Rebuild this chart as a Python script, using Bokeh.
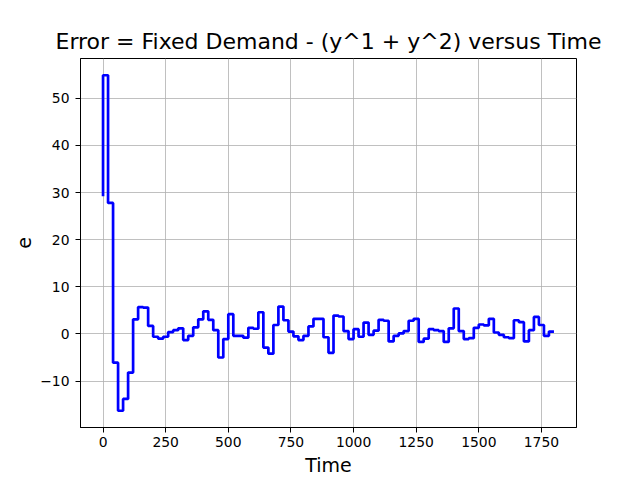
from bokeh.plotting import figure
from bokeh.models import Range1d, FixedTicker
from bokeh.embed import file_html
from bokeh.resources import INLINE

# Data (step plot, 'pre' style)
times = [0, 20, 40, 60, 80, 100, 120, 140, 160, 180,
         200, 220, 240, 260, 280, 300, 320, 340, 360, 380,
         400, 420, 440, 460, 480, 500, 520, 540, 560, 580,
         600, 620, 640, 660, 680, 700, 720, 740, 760, 780,
         800, 820, 840, 860, 880, 900, 920, 940, 960, 980,
         1000, 1020, 1040, 1060, 1080, 1100, 1120, 1140, 1160, 1180,
         1200, 1220, 1240, 1260, 1280, 1300, 1320, 1340, 1360, 1380,
         1400, 1420, 1440, 1460, 1480, 1500, 1520, 1540, 1560, 1580,
         1600, 1620, 1640, 1660, 1680, 1700, 1720, 1740, 1760, 1780,
         1800]
error = [29.2, 54.9, 27.8, -6.1, -16.3, -13.8, -8.2, 3.1, 5.7, 5.6,
         1.7, -0.6, -1.0, -0.6, 0.4, 0.8, 1.2, -1.3, -0.4, 1.4,
         3.1, 4.8, 3.0, 0.8, -5.0, -1.1, 4.2, -0.4, -0.4, -0.8,
         1.3, 1.1, 4.6, -2.9, -4.2, 1.9, 5.8, 2.9, 0.5, -0.5,
         -1.3, -0.4, 1.6, 3.2, 3.2, -0.7, -4.0, 3.9, 3.7, 0.6,
         -1.1, 1.0, -0.6, 2.4, -0.2, 0.7, 3.0, 2.8, -1.6, -0.4,
         0.1, 0.6, 2.8, 3.2, -1.7, -1.0, 1.0, 0.8, 0.6, -1.7,
         1.2, 5.4, 0.6, -1.1, -0.9, 1.3, 2.0, 1.8, 3.2, 0.3,
         -0.2, -0.7, -0.9, 2.9, 2.5, -1.6, 0.8, 3.6, 1.9, -0.4,
         0.5]
x_ticks = [0, 250, 500, 750, 1000, 1250, 1500, 1750]
y_ticks = [-10, 0, 10, 20, 30, 40, 50]

FONT = "DejaVu Sans"

p = figure(width=640, height=480, output_backend="svg", toolbar_location=None,
           x_range=Range1d(-90, 1890), y_range=Range1d(-19.86, 58.46),
           title="Error = Fixed Demand - (y^1 + y^2) versus Time",
           min_border_left=80, min_border_right=64, min_border_top=58, min_border_bottom=53)

p.title.text_font = FONT
p.title.text_font_size = "22px"
p.title.text_font_style = "normal"
p.title.align = "center"
p.title.text_color = "black"

p.outline_line_color = "black"
p.outline_line_width = 1

p.step(times, error, mode="before", line_color="#0000ff", line_width=2.7)

for ax in (p.xaxis[0], p.yaxis[0]):
    ax.major_label_text_font = FONT
    ax.major_label_text_font_size = "13.9px"
    ax.major_label_text_color = "black"
    ax.axis_label_text_font = FONT
    ax.axis_label_text_font_size = "19px"
    ax.axis_label_text_font_style = "normal"
    ax.axis_label_text_color = "black"
    ax.major_tick_out = 5
    ax.major_tick_in = 0
    ax.minor_tick_out = 0
    ax.minor_tick_in = 0
    ax.axis_line_color = "black"
    ax.major_tick_line_color = "black"

p.xaxis.major_label_standoff = 4
p.yaxis.major_label_standoff = 6
p.xaxis.ticker = FixedTicker(ticks=x_ticks)
p.yaxis.ticker = FixedTicker(ticks=y_ticks)
p.yaxis.major_label_overrides = {t: (str(t).replace("-", "\u2212")) for t in y_ticks}
p.xaxis.axis_label = "Time"
p.yaxis.axis_label = "e"
p.xaxis.axis_label_standoff = 4
p.yaxis.axis_label_standoff = 6

p.xgrid.ticker = FixedTicker(ticks=x_ticks)
p.ygrid.ticker = FixedTicker(ticks=y_ticks)
p.grid.grid_line_color = "#b0b0b0"
p.grid.grid_line_width = 0.8
p.grid.grid_line_alpha = 1.0

open("out.html", "w").write(file_html(p, INLINE))
